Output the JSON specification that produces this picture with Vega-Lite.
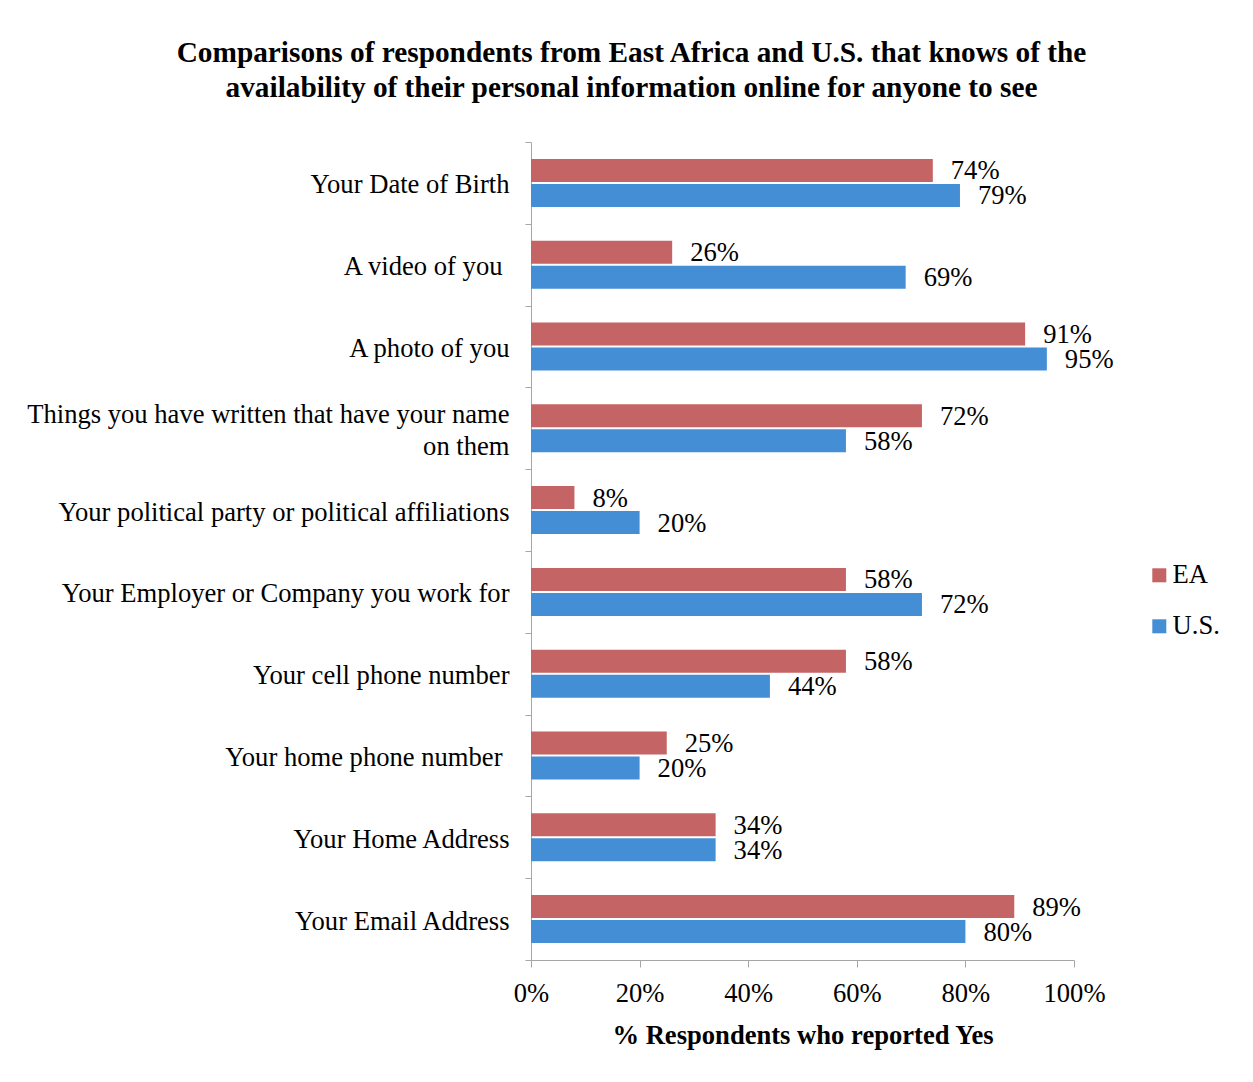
{
  "$schema": "https://vega.github.io/schema/vega-lite/v6.json",
  "autosize": {"type": "none"},
  "padding": {"left": 531, "top": 142, "right": 179, "bottom": 122},
  "width": 543,
  "height": 818,
  "background": "white",
  "title": {
    "text": ["Comparisons of respondents from East Africa and U.S. that knows of the", "availability of their personal information online for anyone to see"],
    "font": "Liberation Serif",
    "fontSize": 29.3,
    "fontWeight": "bold",
    "color": "#000000",
    "anchor": "middle",
    "frame": "group",
    "dx": -171,
    "offset": 26,
    "lineHeight": 35
  },
  "data": {
    "values": [
      {"item": "Your Date of Birth", "series": "EA", "pct": 74},
      {"item": "Your Date of Birth", "series": "U.S.", "pct": 79},
      {"item": "A video of you", "series": "EA", "pct": 26},
      {"item": "A video of you", "series": "U.S.", "pct": 69},
      {"item": "A photo of you", "series": "EA", "pct": 91},
      {"item": "A photo of you", "series": "U.S.", "pct": 95},
      {"item": "Things you have written that have your name on them", "series": "EA", "pct": 72},
      {"item": "Things you have written that have your name on them", "series": "U.S.", "pct": 58},
      {"item": "Your political party or political affiliations", "series": "EA", "pct": 8},
      {"item": "Your political party or political affiliations", "series": "U.S.", "pct": 20},
      {"item": "Your Employer or Company you work for", "series": "EA", "pct": 58},
      {"item": "Your Employer or Company you work for", "series": "U.S.", "pct": 72},
      {"item": "Your cell phone number", "series": "EA", "pct": 58},
      {"item": "Your cell phone number", "series": "U.S.", "pct": 44},
      {"item": "Your home phone number", "series": "EA", "pct": 25},
      {"item": "Your home phone number", "series": "U.S.", "pct": 20},
      {"item": "Your Home Address", "series": "EA", "pct": 34},
      {"item": "Your Home Address", "series": "U.S.", "pct": 34},
      {"item": "Your Email Address", "series": "EA", "pct": 89},
      {"item": "Your Email Address", "series": "U.S.", "pct": 80}
    ]
  },
  "encoding": {
    "y": {
      "field": "item",
      "type": "nominal",
      "sort": null,
      "scale": {"paddingInner": 0, "paddingOuter": 0},
      "axis": {
        "title": null,
        "tickBand": "extent",
        "labelExpr": "datum.value == 'Things you have written that have your name on them' ? ['Things you have written that have your name', 'on them'] : datum.value",
        "labelLineHeight": 32,
        "labelFont": "Liberation Serif",
        "labelFontSize": 26.6,
        "labelColor": "#000000",
        "labelPadding": {"condition": {"test": "datum.value == 'A video of you' || datum.value == 'Your home phone number'", "value": 23}, "value": 16},
        "labelOffset": {"condition": {"test": "datum.value == 'Things you have written that have your name on them'", "value": -14}, "value": 2},
        "labelLimit": 600,
        "tickSize": 6,
        "tickColor": "#A6A6A6",
        "domainColor": "#A6A6A6",
        "grid": false
      }
    },
    "yOffset": {
      "field": "series",
      "type": "nominal",
      "sort": ["EA", "U.S."],
      "scale": {"paddingInner": 0.08, "paddingOuter": 0.676}
    },
    "x": {
      "field": "pct",
      "type": "quantitative",
      "scale": {"domain": [0, 100], "nice": false},
      "axis": {
        "title": "% Respondents who reported Yes",
        "titleFont": "Liberation Serif",
        "titleFontSize": 26.6,
        "titleFontWeight": "bold",
        "titleColor": "#000000",
        "titlePadding": 16,
        "values": [0, 20, 40, 60, 80, 100],
        "labelExpr": "datum.value + '%'",
        "labelFont": "Liberation Serif",
        "labelFontSize": 26.6,
        "labelColor": "#000000",
        "labelPadding": 13,
        "labelFlush": false,
        "tickSize": 7,
        "tickColor": "#A6A6A6",
        "domainColor": "#A6A6A6",
        "grid": false
      }
    }
  },
  "layer": [
    {
      "mark": {"type": "bar"},
      "encoding": {
        "color": {
          "field": "series",
          "type": "nominal",
          "scale": {"domain": ["EA", "U.S."], "range": ["#C46464", "#448ED5"]},
          "legend": {
            "title": null,
            "orient": "none",
            "legendX": 615,
            "legendY": 420,
            "padding": 0,
            "symbolType": "square",
            "symbolSize": 196,
            "symbolStrokeWidth": 0,
            "labelFont": "Liberation Serif",
            "labelFontSize": 26.6,
            "labelColor": "#000000",
            "labelOffset": 0,
            "rowPadding": 24
          }
        }
      }
    },
    {
      "transform": [{"calculate": "datum.pct + '%'", "as": "label"}],
      "mark": {"type": "text", "align": "left", "baseline": "middle", "dx": 18, "dy": 1, "font": "Liberation Serif", "fontSize": 26.6, "color": "#000000"},
      "encoding": {
        "text": {"field": "label", "type": "nominal"},
        "detail": {"field": "series"}
      }
    }
  ],
  "config": {
    "view": {"stroke": null}
  }
}
